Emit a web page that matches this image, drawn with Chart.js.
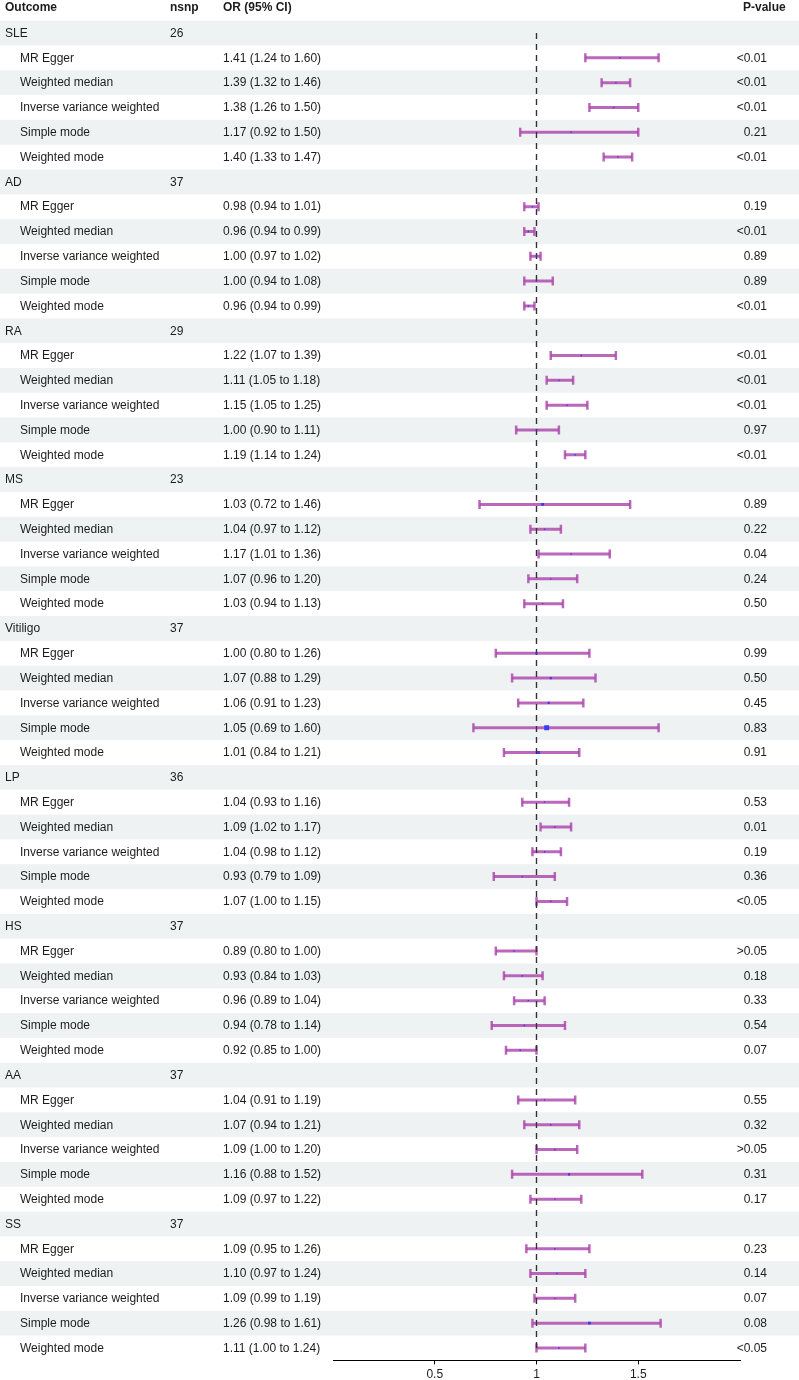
<!DOCTYPE html>
<html>
<head>
<meta charset="utf-8">
<script src="https://cdn.jsdelivr.net/npm/chart.js@4.4.1/dist/chart.umd.min.js"></script>
<style>
    html, body { margin: 0; padding: 0; background: #ffffff; }
    #forest_canvas { display: block; }
</style>
</head>
<body>
<canvas id="forest_canvas" width="799" height="1380"></canvas>
<script>
const outcome_names = ['SLE', 'AD', 'RA', 'MS', 'Vitiligo', 'LP', 'HS', 'AA', 'SS'];
const outcome_nsnp = [26, 37, 29, 23, 37, 36, 37, 37, 37];
const method_names = ['MR Egger', 'Weighted median', 'Inverse variance weighted', 'Simple mode', 'Weighted mode'];

// one row of five per outcome, in method_names order
const or_estimate = [
    1.41, 1.39, 1.38, 1.17, 1.40,
    0.98, 0.96, 1.00, 1.00, 0.96,
    1.22, 1.11, 1.15, 1.00, 1.19,
    1.03, 1.04, 1.17, 1.07, 1.03,
    1.00, 1.07, 1.06, 1.05, 1.01,
    1.04, 1.09, 1.04, 0.93, 1.07,
    0.89, 0.93, 0.96, 0.94, 0.92,
    1.04, 1.07, 1.09, 1.16, 1.09,
    1.09, 1.10, 1.09, 1.26, 1.11,
];
const or_lower = [
    1.24, 1.32, 1.26, 0.92, 1.33,
    0.94, 0.94, 0.97, 0.94, 0.94,
    1.07, 1.05, 1.05, 0.90, 1.14,
    0.72, 0.97, 1.01, 0.96, 0.94,
    0.80, 0.88, 0.91, 0.69, 0.84,
    0.93, 1.02, 0.98, 0.79, 1.00,
    0.80, 0.84, 0.89, 0.78, 0.85,
    0.91, 0.94, 1.00, 0.88, 0.97,
    0.95, 0.97, 0.99, 0.98, 1.00,
];
const or_upper = [
    1.60, 1.46, 1.50, 1.50, 1.47,
    1.01, 0.99, 1.02, 1.08, 0.99,
    1.39, 1.18, 1.25, 1.11, 1.24,
    1.46, 1.12, 1.36, 1.20, 1.13,
    1.26, 1.29, 1.23, 1.60, 1.21,
    1.16, 1.17, 1.12, 1.09, 1.15,
    1.00, 1.03, 1.04, 1.14, 1.00,
    1.19, 1.21, 1.20, 1.52, 1.22,
    1.26, 1.24, 1.19, 1.61, 1.24,
];
const p_labels = [
    '<0.01', '<0.01', '<0.01', '0.21', '<0.01',
    '0.19', '<0.01', '0.89', '0.89', '<0.01',
    '<0.01', '<0.01', '<0.01', '0.97', '<0.01',
    '0.89', '0.22', '0.04', '0.24', '0.50',
    '0.99', '0.50', '0.45', '0.83', '0.91',
    '0.53', '0.01', '0.19', '0.36', '<0.05',
    '>0.05', '0.18', '0.33', '0.54', '0.07',
    '0.55', '0.32', '>0.05', '0.31', '0.17',
    '0.23', '0.14', '0.07', '0.08', '<0.05',
];
const point_size = [
    1, 1, 1, 1, 1,
    1, 1, 1, 1, 1,
    1, 1, 1, 1, 1,
    2, 1, 1, 1, 1,
    1.5, 1.5, 1.5, 3.5, 2,
    1, 1, 1, 1, 1,
    1, 1, 1, 1, 1,
    1, 1, 1, 1.5, 1,
    1, 1, 1, 2, 1,
];
const x_ticks = [0.5, 1, 1.5];
const header_labels = ['Outcome', 'nsnp', 'OR (95% CI)', 'P-value'];

const forest_palette = {
    ci: 'rgba(172, 70, 172, 0.82)',
    point: '#3b3bf2',
    ref: '#333333',
    band: '#eff2f3',
    text: '#1c1c1c',
    axis: '#000000',
};

const font_family = '"Liberation Sans", Arial, Helvetica, sans-serif';

// flatten into table rows: one outcome header then its five methods
function forest_build_rows() {
    const rows = [];
    outcome_names.forEach(function (name, g_idx) {
        rows.push({ kind: 'group', label: name, nsnp: String(outcome_nsnp[g_idx]) });
        method_names.forEach(function (method, m_idx) {
            const k = g_idx * method_names.length + m_idx;
            rows.push({
                kind: 'method',
                label: method,
                est: or_estimate[k],
                lo: or_lower[k],
                hi: or_upper[k],
                ci_text: or_estimate[k].toFixed(2) + ' (' + or_lower[k].toFixed(2) + ' to ' + or_upper[k].toFixed(2) + ')',
                p_text: p_labels[k],
                size: point_size[k],
            });
        });
    });
    return rows;
}

const forest_rows = forest_build_rows();
const row_count = forest_rows.length;

function forest_datasets() {
    const sets = [];

    forest_rows.forEach(function (row, idx) {
        if (row.kind !== 'method') {
            return;
        }
        sets.push({
            type: 'line',
            data: [{ x: row.lo, y: idx }, { x: row.hi, y: idx }],
            borderColor: forest_palette.ci,
            borderWidth: 3,
            pointStyle: 'line',
            rotation: 90,
            pointRadius: 4.5,
            pointBorderWidth: 2.5,
            pointBorderColor: forest_palette.ci,
            pointHoverRadius: 0,
            order: 3,
        });
    });

    sets.push({
        type: 'line',
        data: [{ x: 1, y: 0 }, { x: 1, y: row_count - 1 }],
        borderColor: forest_palette.ref,
        borderWidth: 1.4,
        borderDash: [6, 5],
        pointRadius: 0,
        order: 2,
    });

    const point_rows = [];
    const point_radius = [];
    forest_rows.forEach(function (row, idx) {
        if (row.kind === 'method') {
            point_rows.push({ x: row.est, y: idx });
            point_radius.push(row.size);
        }
    });

    sets.push({
        type: 'scatter',
        data: point_rows,
        pointStyle: 'rect',
        pointRadius: point_radius,
        backgroundColor: forest_palette.point,
        borderWidth: 0,
        order: 1,
    });

    return sets;
}

const forest_table_plugin = {
    id: 'forest_table',
    beforeDraw: function (chart) {
        const ctx = chart.ctx;
        const y_scale = chart.scales.y;
        ctx.save();
        ctx.fillStyle = forest_palette.band;
        forest_rows.forEach(function (row, idx) {
            if (idx % 2 !== 0) {
                return;
            }
            const top = y_scale.getPixelForValue(idx - 0.5);
            const bottom = y_scale.getPixelForValue(idx + 0.5);
            ctx.fillRect(0, top, chart.width, bottom - top);
        });
        ctx.restore();
    },
    afterDraw: function (chart) {
        const ctx = chart.ctx;
        const y_scale = chart.scales.y;
        ctx.save();
        ctx.fillStyle = forest_palette.text;
        ctx.textBaseline = 'middle';

        ctx.font = 'bold 12px ' + font_family;
        ctx.textAlign = 'left';
        ctx.fillText(header_labels[0], 5, 8);
        ctx.fillText(header_labels[1], 170, 8);
        ctx.fillText(header_labels[2], 223, 8);
        ctx.fillText(header_labels[3], 743, 8);

        ctx.font = '12px ' + font_family;
        forest_rows.forEach(function (row, idx) {
            const y = y_scale.getPixelForValue(idx) + 0.5;
            ctx.textAlign = 'left';
            if (row.kind === 'group') {
                ctx.fillText(row.label, 5, y);
                ctx.fillText(row.nsnp, 170, y);
                return;
            }
            ctx.fillText(row.label, 20, y);
            ctx.fillText(row.ci_text, 223, y);
            ctx.textAlign = 'right';
            ctx.fillText(row.p_text, 767, y);
        });
        ctx.restore();
    },
};

function forest_render() {
    const canvas = document.getElementById('forest_canvas');
    if (!canvas || typeof Chart === 'undefined') {
        return;
    }

    new Chart(canvas.getContext('2d'), {
        type: 'line',
        data: { datasets: forest_datasets() },
        options: {
            responsive: false,
            devicePixelRatio: 1,
            animation: false,
            layout: {
                padding: { left: 333, right: 59, top: 20.6, bottom: 0 },
            },
            plugins: {
                legend: { display: false },
                tooltip: { enabled: false },
            },
            scales: {
                x: {
                    type: 'linear',
                    min: 0,
                    max: 2,
                    afterBuildTicks: function (scale) {
                        scale.ticks = x_ticks.map(function (v) {
                            return { value: v };
                        });
                    },
                    afterFit: function (scale) {
                        scale.height = 19.6;
                    },
                    border: { display: true, color: forest_palette.axis, width: 1 },
                    grid: {
                        drawOnChartArea: false,
                        drawTicks: true,
                        tickLength: 4,
                        color: forest_palette.axis,
                    },
                    ticks: {
                        color: forest_palette.text,
                        padding: 3,
                        font: { family: font_family, size: 12 },
                        maxRotation: 0,
                        callback: function (value) {
                            return String(value);
                        },
                    },
                },
                y: {
                    type: 'linear',
                    display: false,
                    reverse: true,
                    min: -0.5,
                    max: row_count - 0.5,
                },
            },
        },
        plugins: [forest_table_plugin],
    });
}

forest_render();
</script>
</body>
</html>
